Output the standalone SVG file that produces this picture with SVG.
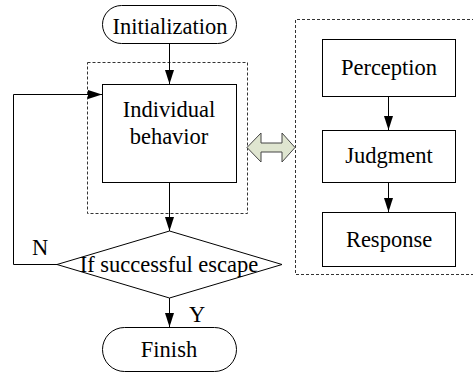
<svg xmlns="http://www.w3.org/2000/svg" width="473" height="374" viewBox="0 0 473 374">
<style>
.b{fill:#fff;stroke:#000;stroke-width:1}
.d{fill:none;stroke:#333;stroke-width:1;stroke-dasharray:3,2}
.l{fill:none;stroke:#000;stroke-width:1}
text{font-family:'Liberation Serif','Times New Roman',serif;font-size:22.5px;fill:#000;text-anchor:middle}
</style>
<defs>
<marker id="a" markerWidth="14" markerHeight="10" refX="14" refY="4.5" orient="auto" markerUnits="userSpaceOnUse">
<path d="M0,0 L14,4.5 L0,9 Z" fill="#000"/>
</marker>
</defs>
<g id="frames">
<rect class="d" x="87.5" y="62.5" width="160" height="151"/>
<path class="d" d="M480,19.5 H295.5 V274.5 H480"/>
</g>
<g id="init">
<rect class="b" x="102.5" y="5.5" width="134" height="38" rx="19"/>
<text x="170" y="34">Initialization</text>
</g>
<g id="behavior">
<rect class="b" x="102.5" y="84.5" width="134" height="98"/>
<text x="169" y="117">Individual</text>
<text x="169" y="144">behavior</text>
</g>
<g id="decision">
<polygon class="b" points="57,264.5 169.5,231 282,264.5 169.5,298"/>
<text x="169" y="272">If successful escape</text>
</g>
<g id="finish">
<rect class="b" x="102.5" y="327.5" width="134" height="44" rx="22"/>
<text x="169" y="357">Finish</text>
</g>
<g id="perception">
<rect class="b" x="322.5" y="39.5" width="133" height="57"/>
<text x="389" y="75">Perception</text>
</g>
<g id="judgment">
<rect class="b" x="322.5" y="130.5" width="133" height="52"/>
<text x="389" y="163">Judgment</text>
</g>
<g id="response">
<rect class="b" x="322.5" y="212.5" width="133" height="54"/>
<text x="389" y="247">Response</text>
</g>
<g id="connectors">
<line class="l" x1="169.5" y1="43.5" x2="169.5" y2="84" marker-end="url(#a)"/>
<line class="l" x1="169.5" y1="182.5" x2="169.5" y2="231" marker-end="url(#a)"/>
<line class="l" x1="169.5" y1="298" x2="169.5" y2="327" marker-end="url(#a)"/>
<polyline class="l" points="57,264.5 13.5,264.5 13.5,94.5 102,94.5" marker-end="url(#a)"/>
<line class="l" x1="388.5" y1="96.5" x2="388.5" y2="130" marker-end="url(#a)"/>
<line class="l" x1="388.5" y1="182.5" x2="388.5" y2="212" marker-end="url(#a)"/>
<polygon points="247,147.5 261,133 261,143 282,143 282,133 295,147.5 282,162 282,152 261,152 261,162" fill="#dfe5d0" stroke="#444" stroke-width="1"/>
<text x="40" y="255">N</text>
<text x="197" y="322">Y</text>
</g>
</svg>
